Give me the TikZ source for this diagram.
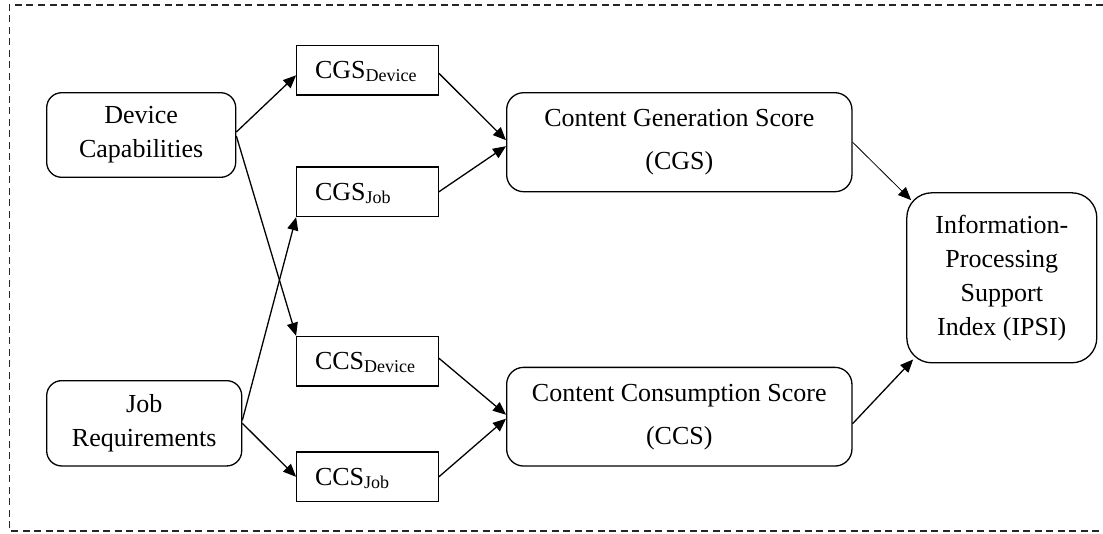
\documentclass[tikz,border=0pt]{standalone}
\usepackage{fontspec}
\setmainfont{Liberation Serif}
\usetikzlibrary{arrows.meta,calc}
\newcommand{\mysub}[1]{\raisebox{-3pt}{\fontsize{18}{18}\selectfont #1}}
\begin{document}
\begin{tikzpicture}[x=1pt,y=-1pt,
  bigbox/.style={draw, line width=1.3pt, rounded corners=15pt, align=center, inner sep=0pt, font=\fontsize{26}{34}\selectfont},
  smallbox/.style={draw, line width=1.3pt, minimum width=141.5pt, minimum height=49.5pt, text width=105pt, inner xsep=18pt, inner ysep=0pt, align=left, text height=17pt, text depth=0pt, font=\fontsize{26}{30}\selectfont},
  conn/.style={line width=1.3pt, -{Triangle[length=13pt,width=11pt]}},
  thinconn/.style={line width=0.8pt, -{Triangle[length=13pt,width=11pt]}},
  frameline/.style={line width=1.3pt, black!85, dash pattern=on 7pt off 4.5pt}
]
\useasboundingbox (0,0) rectangle (1103,533);
\draw[frameline] (1103,5) -- (9.3,5) -- (9.3,531) -- (1103,531);

% left inputs
\node[bigbox, minimum width=189pt, minimum height=84.6pt] (dev) at (141.2,135) {Device\\Capabilities};
\node[bigbox, minimum width=195pt, minimum height=85.3pt] (job) at (144.2,423.3) {Job\\Requirements};

% sub-scores
\node[smallbox] (cgsd) at (367.5,70.3) {CGS\mysub{Device}};
\node[smallbox] (cgsj) at (367.5,191.8) {CGS\mysub{Job}};
\node[smallbox] (ccsd) at (367.5,361.2) {CCS\mysub{Device}};
\node[smallbox] (ccsj) at (367.5,476.8) {CCS\mysub{Job}};

% scores
\node[bigbox, rounded corners=17pt, minimum width=345.3pt, minimum height=99pt, font=\fontsize{26}{43}\selectfont] (cgs) at (679.3,142.2) {Content Generation Score\\(CGS)};
\node[bigbox, rounded corners=17pt, minimum width=345.3pt, minimum height=98.7pt, font=\fontsize{26}{43}\selectfont] (ccs) at (679.3,416.7) {Content Consumption Score\\(CCS)};

% index
\node[bigbox, rounded corners=25pt, minimum width=190pt, minimum height=170pt] (ipsi) at (1001.8,277.8) {Information-\\Processing\\Support\\Index (IPSI)};

% connectors
\draw[conn] ($(dev.east)+(0,-3)$) -- ($(cgsd.west)+(0,5)$);
\draw[conn] ($(dev.east)+(0,1)$) -- (ccsd.north west);
\draw[conn] ($(job.east)+(0,-3)$) -- (cgsj.south west);
\draw[conn] (job.east) -- (ccsj.west);
\draw[conn] ($(cgsd.east)+(0,3)$) -- ($(cgs.west)+(0,-2)$);
\draw[conn] (cgsj.east) -- ($(cgs.west)+(0,4)$);
\draw[conn] ($(ccsd.east)+(0,-3)$) -- ($(ccs.west)+(0,-2)$);
\draw[conn] (ccsj.east) -- ($(ccs.west)+(0,2)$);
\draw[thinconn] (cgs.east) -- ($(ipsi.north west)+(5,8)$);
\draw[conn] ($(ccs.east)+(0,7)$) -- ($(ipsi.south west)+(7,-4)$);
\end{tikzpicture}
\end{document}
